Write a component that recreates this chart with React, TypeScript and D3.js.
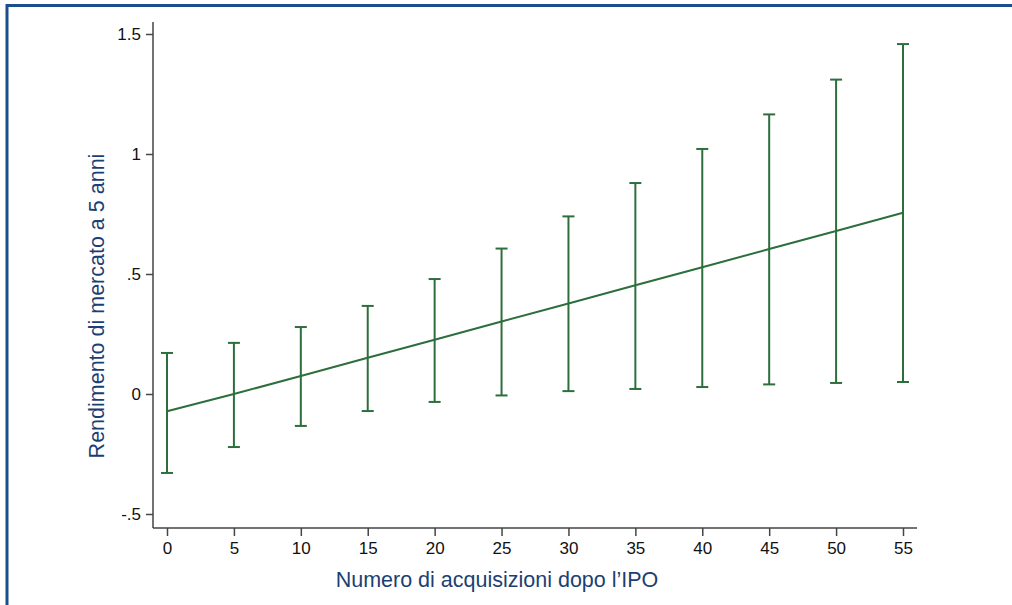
import React, { useEffect, useRef } from "react";
import * as d3 from "d3";

// numero di acquisizioni dopo l'IPO
const acquisitions = [0, 5, 10, 15, 20, 25, 30, 35, 40, 45, 50, 55];
// rendimento previsto e intervallo di confidenza
const predicted = [-0.072, 0.0, 0.075, 0.151, 0.226, 0.302, 0.377, 0.453, 0.528, 0.604, 0.679, 0.755];
const upper = [0.171, 0.213, 0.279, 0.367, 0.479, 0.606, 0.74, 0.879, 1.021, 1.165, 1.31, 1.458];
const lower = [-0.329, -0.221, -0.133, -0.071, -0.033, -0.006, 0.012, 0.021, 0.029, 0.04, 0.046, 0.05];

const xTicks = [0, 5, 10, 15, 20, 25, 30, 35, 40, 45, 50, 55];
const yTicks = [-0.5, 0, 0.5, 1, 1.5];

// stile Stata: ".5" e "-.5"
const fmtY = (v: number) => String(v).replace(/^(-?)0\./, "$1.");

const App: React.FC = () => {
  const svgRef = useRef<SVGSVGElement | null>(null);

  useEffect(() => {
    if (!svgRef.current) return;
    const svg = d3.select(svgRef.current);
    svg.selectAll("*").remove();

    const green = "#2c6e3c";
    const axisCol = "#444";
    const blue = "#1c3f73";
    const font = "'Liberation Sans', Arial, sans-serif";

    // cornice
    svg
      .append("path")
      .attr("d", "M7,1012 L7,5.5 L1012,5.5")
      .attr("fill", "none")
      .attr("stroke", "#1a4f8a")
      .attr("stroke-width", 3);

    const x = d3.scaleLinear().domain([0, 55]).range([167, 903]);
    const y = d3.scaleLinear().domain([-0.5, 1.5]).range([514, 34]);

    const g = svg.append("g");

    // assi
    g.append("line")
      .attr("x1", 153).attr("x2", 153)
      .attr("y1", 22).attr("y2", 528)
      .attr("stroke", axisCol).attr("stroke-width", 1.5);
    g.append("line")
      .attr("x1", 153).attr("x2", 917)
      .attr("y1", 528).attr("y2", 528)
      .attr("stroke", axisCol).attr("stroke-width", 1.5);

    const yAxis = d3.axisLeft(y).tickValues(yTicks).tickSize(7).tickPadding(5).tickFormat((d) => fmtY(+d));
    const ya = g.append("g").attr("transform", "translate(153,0)").call(yAxis);
    ya.select(".domain").remove();

    const xAxis = d3.axisBottom(x).tickValues(xTicks).tickSize(8).tickPadding(6).tickFormat((d) => String(d));
    const xa = g.append("g").attr("transform", "translate(0,528)").call(xAxis);
    xa.select(".domain").remove();

    [ya, xa].forEach((a) => {
      a.attr("font-size", 17).attr("font-family", font);
      a.selectAll("line").attr("stroke", axisCol).attr("stroke-width", 1.5);
      a.selectAll("text").attr("fill", "#111");
    });

    // intervalli di confidenza
    const capW = 6;
    const bars = g.append("g").attr("stroke", green).attr("stroke-width", 2);
    acquisitions.forEach((a, i) => {
      const cx = x(a);
      bars.append("line").attr("x1", cx).attr("x2", cx).attr("y1", y(upper[i])).attr("y2", y(lower[i]));
      bars.append("line").attr("x1", cx - capW).attr("x2", cx + capW).attr("y1", y(upper[i])).attr("y2", y(upper[i]));
      bars.append("line").attr("x1", cx - capW).attr("x2", cx + capW).attr("y1", y(lower[i])).attr("y2", y(lower[i]));
    });

    // retta prevista
    const line = d3
      .line<number>()
      .x((_, i) => x(acquisitions[i]))
      .y((d) => y(d));
    g.append("path")
      .datum(predicted)
      .attr("d", line)
      .attr("fill", "none")
      .attr("stroke", green)
      .attr("stroke-width", 2);

    // titoli
    g.append("text")
      .attr("x", 497)
      .attr("y", 587)
      .attr("text-anchor", "middle")
      .attr("fill", blue)
      .attr("font-family", font)
      .attr("font-size", 21.5)
      .text("Numero di acquisizioni dopo l\u2019IPO");

    g.append("text")
      .attr("transform", "translate(104,306) rotate(-90)")
      .attr("text-anchor", "middle")
      .attr("fill", blue)
      .attr("font-family", font)
      .attr("font-size", 21.5)
      .text("Rendimento di mercato a 5 anni");
  }, []);

  return (
    <svg
      ref={svgRef}
      width={1012}
      height={605}
      style={{ position: "absolute", left: 0, top: 0, background: "#fff" }}
    />
  );
};

export default App;
